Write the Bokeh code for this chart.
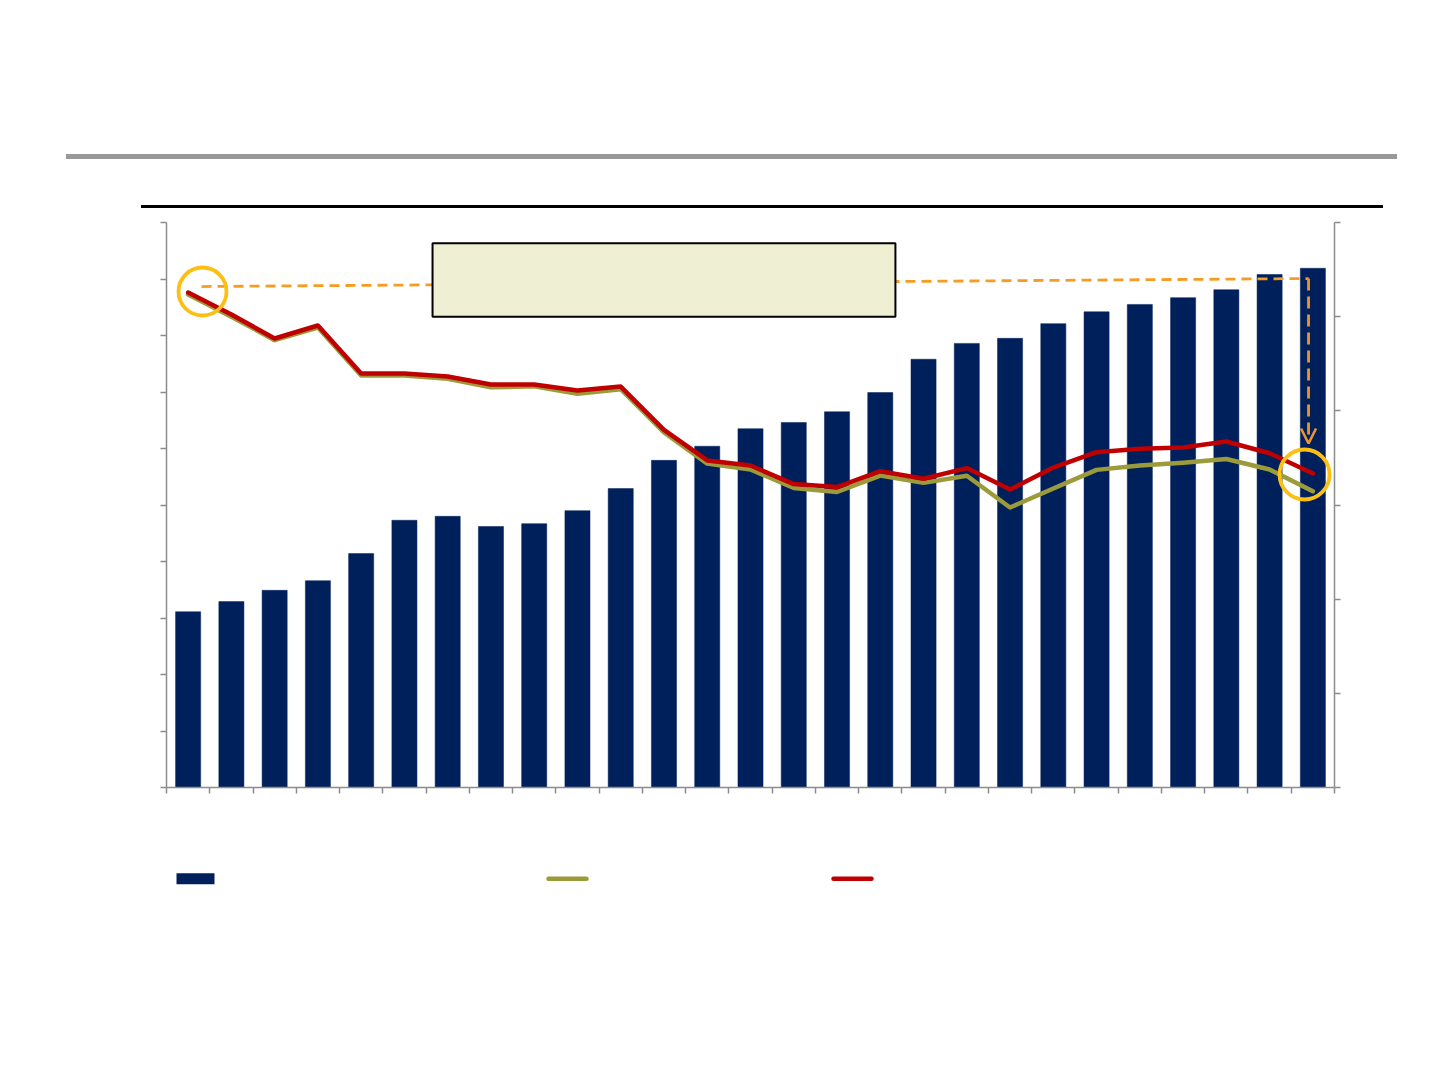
from bokeh.plotting import figure
from bokeh.models import (Range1d, LinearAxis, FixedTicker, Arrow, OpenHead,
                          ColumnDataSource, Div)
from bokeh.layouts import column
from bokeh.embed import file_html
from bokeh.resources import INLINE

# ---------------- data ----------------
periods = list(range(1, 28))
bar_values = [3.11, 3.29, 3.49, 3.66, 4.14, 4.73, 4.80, 4.62, 4.67, 4.90,
              5.29, 5.79, 6.04, 6.35, 6.46, 6.65, 6.99, 7.58, 7.86, 7.95,
              8.21, 8.42, 8.55, 8.67, 8.81, 9.08, 9.19]
red_values = [5.256, 5.023, 4.768, 4.906, 4.396, 4.396, 4.364, 4.279, 4.279, 4.215,
              4.258, 3.797, 3.473, 3.419, 3.222, 3.190, 3.359, 3.279, 3.392, 3.164,
              3.398, 3.561, 3.597, 3.611, 3.674, 3.550, 3.335]
olive_values = [5.235, 5.000, 4.750, 4.885, 4.375, 4.375, 4.340, 4.250, 4.260, 4.180,
                4.230, 3.770, 3.440, 3.377, 3.181, 3.138, 3.313, 3.235, 3.311, 2.974,
                3.175, 3.373, 3.420, 3.449, 3.488, 3.377, 3.145]
left_ticks = list(range(0, 11))
right_ticks = list(range(0, 7))
x_ticks = list(range(0, 28))

# annotation shapes (in data units)
ref_x = [0.81, 26.40]
ref_y = [5.320, 5.405]
arrow_end_y = 3.653
circle_x = [0.832, 26.307]
circle_y = [5.267, 3.324]
circle_size = [48, 50]
box_lr = [6.15, 16.85]
box_bt = [5.00, 5.78]

NAVY = "#00205B"
RED = "#C00000"
OLIVE = "#9B9B3B"
ORANGE = "#F59C22"
ARROW_ORANGE = "#EC9430"
GOLD = "#FDBF12"
AXIS_GRAY = "#8C8C8C"

W = 1424
HEADER_H = 214
MAIN_H = 603
STRIP_H = 150

# ---------------- top rules (header) ----------------
header = Div(width=W, height=HEADER_H, margin=0, text=(
    '<div style="position:relative;width:1424px;height:214px;margin:0;padding:0;">'
    '<div style="position:absolute;left:66px;top:154px;width:1331px;height:5px;background:#999999;"></div>'
    '<div style="position:absolute;left:141px;top:205px;width:1242px;height:3px;background:#000000;"></div>'
    '</div>'))

# ---------------- main chart ----------------
p = figure(width=W, height=MAIN_H, x_range=Range1d(0, 27), y_range=Range1d(0, 10),
           toolbar_location=None, output_backend="svg", title=None,
           min_border_left=166, min_border_right=90, min_border_top=8, min_border_bottom=30,
           outline_line_color=None, margin=0)
p.extra_y_ranges = {"right": Range1d(0, 6)}
p.xgrid.visible = False
p.ygrid.visible = False

src = ColumnDataSource(dict(x=[i - 0.5 for i in periods], bar=bar_values,
                            red=red_values, olive=olive_values))

p.vbar(x="x", top="bar", bottom=0, width=0.58, source=src,
       fill_color=NAVY, line_color=NAVY, line_width=0.5)

# reference dashed line and annotation box
p.line(ref_x, ref_y, y_range_name="right", line_color=ORANGE, line_width=2.8,
       line_dash="10 6")
p.quad(left=[box_lr[0]], right=[box_lr[1]], bottom=[box_bt[0]], top=[box_bt[1]],
       y_range_name="right", fill_color="#EFEFD3", line_color="#000000", line_width=2)

p.line("x", "olive", source=src, y_range_name="right", line_color=OLIVE,
       line_width=4.5, line_join="round", line_cap="round")
p.line("x", "red", source=src, y_range_name="right", line_color=RED,
       line_width=4.5, line_join="round", line_cap="round")

p.add_layout(Arrow(x_start=ref_x[1], y_start=ref_y[1], x_end=ref_x[1], y_end=arrow_end_y,
                   y_range_name="right", line_color=ARROW_ORANGE, line_width=2.8,
                   line_dash="12 6",
                   end=OpenHead(size=15, line_color=ARROW_ORANGE, line_width=2.6)))

p.scatter(circle_x, circle_y, size=circle_size, marker="circle", y_range_name="right",
          fill_color=None, line_color=GOLD, line_width=3.8)

# axes (tick marks only, no labels)
for ax in [p.xaxis[0], p.yaxis[0]]:
    ax.axis_line_color = AXIS_GRAY
    ax.axis_line_width = 1.5
    ax.major_tick_line_color = AXIS_GRAY
    ax.major_tick_line_width = 1.5
    ax.major_tick_out = 6
    ax.major_tick_in = 0
    ax.minor_tick_line_color = None
    ax.major_label_text_color = None
p.xaxis[0].ticker = FixedTicker(ticks=x_ticks)
p.yaxis[0].ticker = FixedTicker(ticks=left_ticks)

raxis = LinearAxis(y_range_name="right", ticker=FixedTicker(ticks=right_ticks),
                   axis_line_color=AXIS_GRAY, axis_line_width=1.5,
                   major_tick_line_color=AXIS_GRAY, major_tick_line_width=1.5,
                   major_tick_out=6, major_tick_in=0, minor_tick_line_color=None,
                   major_label_text_color=None)
p.add_layout(raxis, "right")

# ---------------- legend strip (key swatches, page-pixel layout) ----------------
strip_top = HEADER_H + MAIN_H
lg = figure(width=W, height=STRIP_H, x_range=Range1d(166, 1334),
            y_range=Range1d(strip_top + STRIP_H, strip_top),
            x_axis_type=None, y_axis_type=None, toolbar_location=None,
            output_backend="svg", title=None, outline_line_color=None, margin=0,
            min_border_left=166, min_border_right=90, min_border_top=0, min_border_bottom=0)
key_y = 878.3
lg.quad(left=[176], right=[214], top=[key_y - 5.5], bottom=[key_y + 5.5],
        fill_color=NAVY, line_color=None)
lg.line([548, 586], [key_y, key_y], line_color=OLIVE, line_width=4.5, line_cap="round")
lg.line([833, 871], [key_y, key_y], line_color=RED, line_width=4.5, line_cap="round")

layout = column(header, p, lg, spacing=0)
open("out.html", "w").write(file_html(layout, INLINE))
